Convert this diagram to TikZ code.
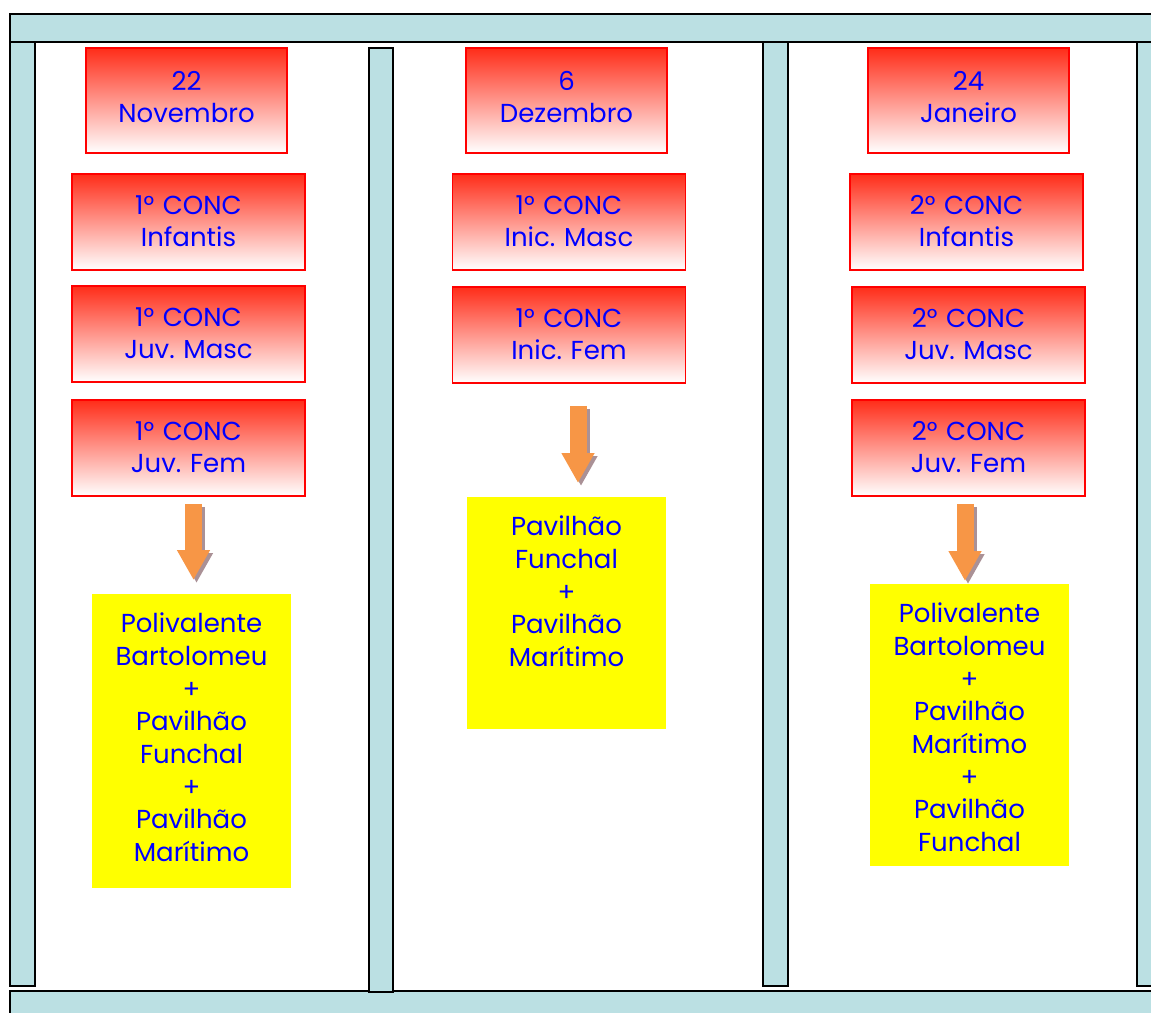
\documentclass[tikz,border=0pt]{standalone}
\usepackage{fontspec}
\setmainfont{Poppins}
\usepackage{tikz}
\usetikzlibrary{arrows.meta,calc}

\definecolor{barfill}{RGB}{187,224,227}
\definecolor{boxtop}{RGB}{255,45,25}
\definecolor{arroworange}{RGB}{247,150,70}
\definecolor{arrowshade}{RGB}{170,145,150}
\definecolor{sitefill}{RGB}{255,255,0}

\tikzset{
    bar/.style={draw=black, fill=barfill, line width=0.6pt},
    datebox/.style={draw=red, line width=0.5pt, top color=boxtop, bottom color=white,
        text=blue, align=center, text width=20mm, minimum width=20.1mm, minimum height=10.5mm,
        inner sep=0pt, text height=2mm, text depth=4.1mm},
    concbox/.style={datebox, text width=23mm, minimum width=23.3mm, minimum height=9.6mm,
        text height=2mm, text depth=3.6mm},
    sitebox/.style={fill=sitefill, text=blue, align=center, anchor=north, text width=19.9mm,
        inner sep=0pt, text height=3.9mm, text depth=#1},
    bigarrow/.style={draw=arroworange, line width=1.7mm, -{Triangle[length=3mm,width=3.1mm]}},
    bigshadow/.style={bigarrow, draw=arrowshade, transform canvas={shift={(0.3mm,-0.3mm)}}}
}

\begin{document}
\begin{tikzpicture}[x=0.1mm, y=-0.1mm, font=\fontsize{7.4}{9.3}\selectfont\frenchspacing]
    \useasboundingbox (0,0) rectangle (1151,1012);

    % frame
    \draw[bar] (10,14) rectangle (1165,42);
    \draw[bar] (10,42) rectangle (35,986);
    \draw[bar] (763,42) rectangle (788,986);
    \draw[bar] (1137,42) rectangle (1165,986);
    \draw[bar] (10,991) rectangle (1165,1025);
    \draw[bar] (369,48) rectangle (393,992);

    % 22 Novembro
    \node[datebox] (date1) at (186.5,100.5) {22\\Novembro};
    \node[concbox] (conc11) at (188.5,222) {1° CONC\\Infantis};
    \node[concbox] (conc12) at (188.5,334) {1° CONC\\Juv. Masc};
    \node[concbox] (conc13) at (188.5,448) {1° CONC\\Juv. Fem};
    \node[sitebox=25.5mm] (local1) at (191.5,593)
        {Polivalente\\Bartolomeu\\+\\Pavilhão\\Funchal\\+\\Pavilhão\\Marítimo};

    % 6 Dezembro
    \node[datebox] (date2) at (566.5,100.5) {6\\Dezembro};
    \node[concbox] (conc21) at (569,222) {1° CONC\\Inic. Masc};
    \node[concbox] (conc22) at (569,335) {1° CONC\\Inic. Fem};
    \node[sitebox=19.3mm] (local2) at (566.5,496)
        {Pavilhão\\Funchal\\+\\Pavilhão\\Marítimo};

    % 24 Janeiro
    \node[datebox] (date3) at (968.5,100.5) {24\\Janeiro};
    \node[concbox] (conc31) at (966.5,222) {2° CONC\\Infantis};
    \node[concbox] (conc32) at (968.5,335) {2° CONC\\Juv. Masc};
    \node[concbox] (conc33) at (968.5,448) {2° CONC\\Juv. Fem};
    \node[sitebox=24.3mm] (local3) at (969.5,583)
        {Polivalente\\Bartolomeu\\+\\Pavilhão\\Marítimo\\+\\Pavilhão\\Funchal};

    % arrows
    \coordinate (tail1) at ([shift={(5,7)}]conc13.south);
    \coordinate (head1) at ($(tail1 |- local1.north)+(0,-13)$);
    \coordinate (tail2) at ([shift={(9,22)}]conc22.south);
    \coordinate (head2) at ($(tail2 |- local2.north)+(0,-13)$);
    \coordinate (tail3) at ([shift={(-3.5,7)}]conc33.south);
    \coordinate (head3) at ($(tail3 |- local3.north)+(0,-2)$);
    \foreach \i in {1,2,3} {
        \draw[bigshadow] (tail\i) -- (head\i);
        \draw[bigarrow] (tail\i) -- (head\i);
    }
\end{tikzpicture}
\end{document}
